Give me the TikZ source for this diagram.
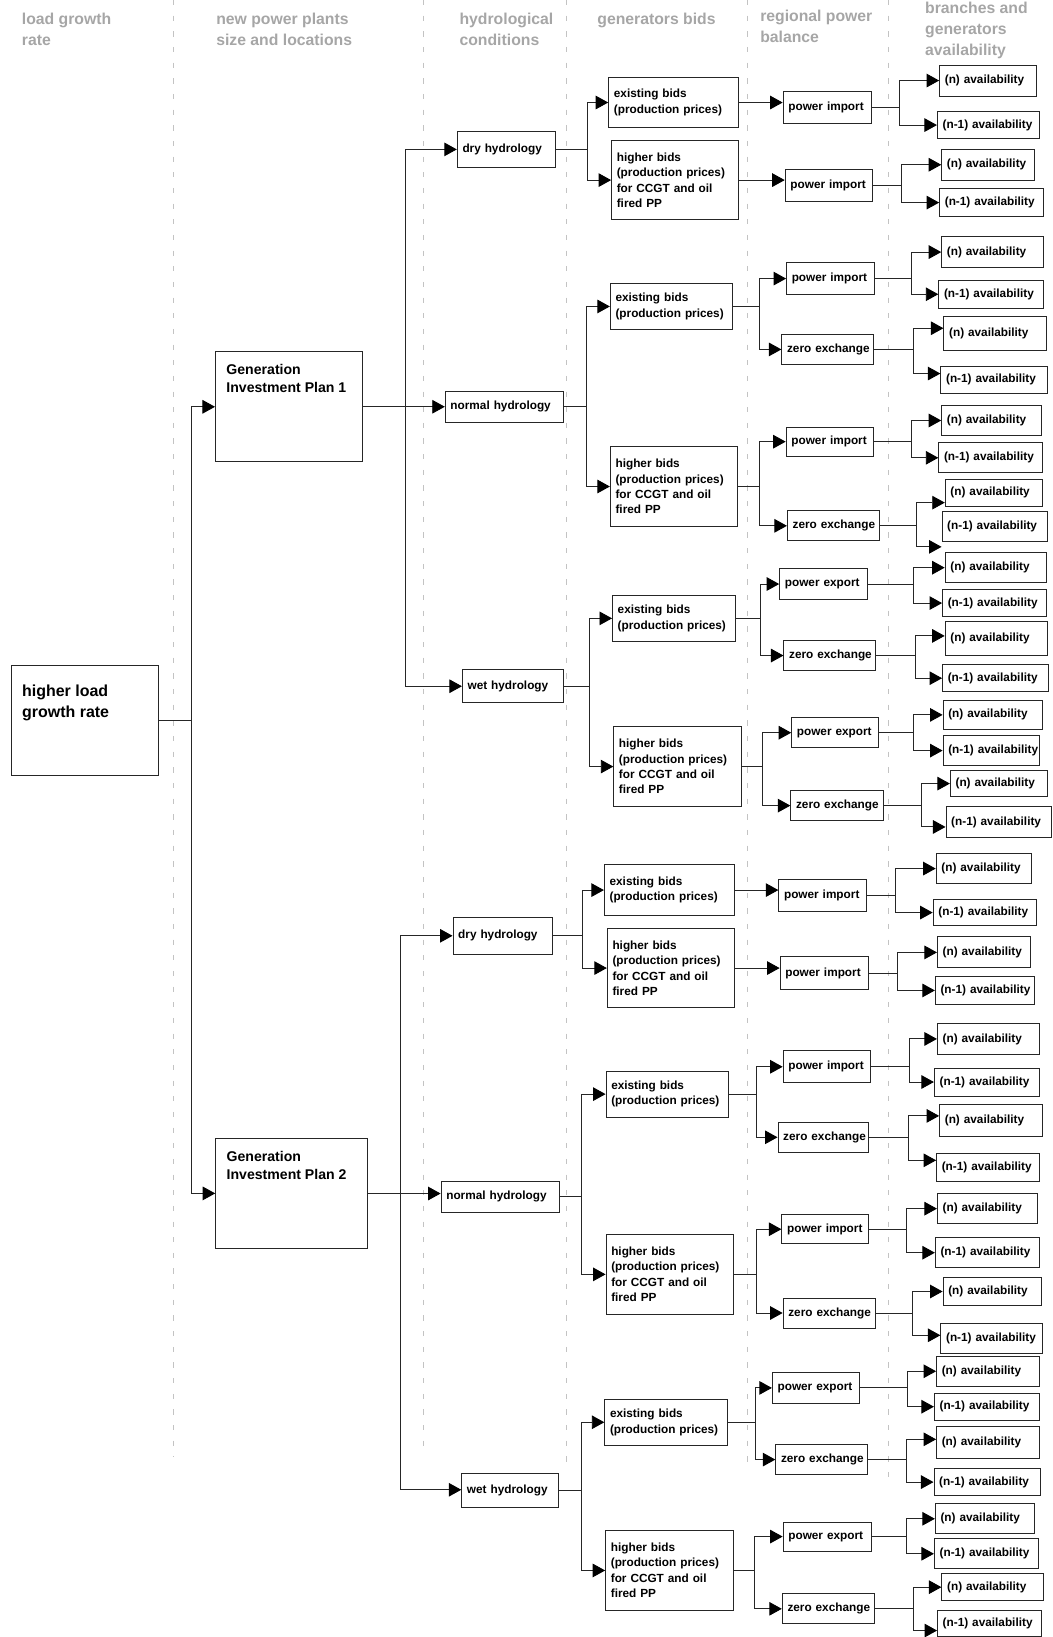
\documentclass[tikz,border=0pt]{standalone}
\usepackage{fontspec}
\setmainfont{Liberation Sans}
\usetikzlibrary{arrows.meta}
\definecolor{hdrgray}{RGB}{166,166,166}
\definecolor{guidegray}{RGB}{195,195,195}
\newcommand\nohy{\hyphenpenalty=10000 \exhyphenpenalty=10000 \lefthyphenmin=64 }
\newcommand\boxfont{\fontsize{11.3}{14.8}\selectfont\bfseries\nohy}
\newcommand\hdrfont{\fontsize{15.1}{20}\selectfont\bfseries}
\newcommand\gipfont{\fontsize{13.5}{17.5}\selectfont\bfseries\nohy}
\newcommand\rootfont{\fontsize{15.3}{20}\selectfont\bfseries\nohy}
\tikzset{
  boxbase/.style={draw=black!85,line width=0.9pt,fill=white,rectangle},
  box/.style={boxbase,align=left,inner xsep=5pt,inner ysep=2pt,font=\boxfont},
  tbox/.style={boxbase,inner xsep=10.5pt,inner ysep=0pt},
  conn/.style={draw=black!85,line width=0.9pt,-{Triangle[length=12pt,width=13pt,color=black]}},
  hdr/.style={anchor=base west,inner sep=0pt,font=\hdrfont,text=hdrgray},
  guide/.style={draw=guidegray,line width=0.9pt,dash pattern=on 5pt off 10pt},
}
% box: name x1 y1 x2 y2 text
\newcommand\bx[6]{%
  \pgfmathsetmacro\BXw{#4-#2}\pgfmathsetmacro\BXh{#5-#3}\pgfmathsetmacro\BXt{#4-#2-10}%
  \pgfmathsetmacro\BXx{(#2+#4)/2}\pgfmathsetmacro\BXy{(#3+#5)/2}%
  \node[box,minimum width=\BXw pt,minimum height=\BXh pt,text width=\BXt pt] (#1) at (\BXx,\BXy) {#6};}
% top-aligned box: name x1 y1 x2 y2 font toppad text
\newcommand\tbx[8]{%
  \pgfmathsetmacro\BXw{#4-#2}\pgfmathsetmacro\BXh{#5-#3}\pgfmathsetmacro\BXt{#4-#2-21}%
  \pgfmathsetmacro\BXx{(#2+#4)/2}\pgfmathsetmacro\BXy{(#3+#5)/2}%
  \node[tbox,minimum width=\BXw pt,minimum height=\BXh pt] (#1) at (\BXx,\BXy)
    {\parbox[c][\BXh pt][t]{\BXt pt}{#6\vspace*{#7pt}\raggedright #8}};}
% elbow link: [offset] parent junction-x child
\newcommand\lnk[4][0]{%
  \path (#4.west) ++(0,#1) coordinate (tgt);
  \draw[conn] (#2.east) -| (#3,0 |- tgt) -- (tgt);}
% straight link
\newcommand\dlnk[2]{\draw[conn] (#1.east) -- (#1.east -| #2.west);}
\newcommand\EB{existing~bids\\(production~prices)}
\newcommand\HB{higher~bids\\(production~prices)\\for~CCGT~and~oil\\fired~PP}
\newcommand\NA{(n)~availability}
\newcommand\MA{(n-1)~availability}
\begin{document}
\begin{tikzpicture}[x=1pt,y=-1pt]
\useasboundingbox (0,0) rectangle (1008,1568);
% guides
\draw[guide] (166,0) -- (166,1395.7);
\draw[guide] (405.4,0) -- (405.4,1392.4);
\draw[guide] (542.3,0) -- (542.3,1405.3);
\draw[guide] (715.5,0) -- (715.5,1405);
\draw[guide] (850.8,0) -- (850.8,1421);
% headers
\node[hdr] (h1a) at (20.8,23.2) {load growth};
\node[hdr] (h1b) at (20.8,43.3) {rate};
\node[hdr] (h2a) at (207,23.2) {new power plants};
\node[hdr] (h2b) at (207,43.3) {size and locations};
\node[hdr] (h3a) at (440,23.2) {hydrological};
\node[hdr] (h3b) at (440,43.3) {conditions};
\node[hdr] (h4a) at (572,23.2) {generators bids};
\node[hdr] (h5a) at (728,21) {regional power};
\node[hdr] (h5b) at (728,41) {balance};
\node[hdr] (h6a) at (886,13) {branches and};
\node[hdr] (h6b) at (886,33) {generators};
\node[hdr] (h6c) at (886,53) {availability};
% main boxes
\tbx{root}{10.7}{637.8}{151.6}{743}{\rootfont}{18.7}{higher load\\growth rate}
\tbx{g1}{206.4}{337}{347.1}{442.3}{\gipfont}{12}{Generation\\Investment Plan 1}
\tbx{g2}{206.6}{1090.7}{352.3}{1195.5}{\gipfont}{12}{Generation\\Investment Plan 2}
% hydrology
\bx{g1d}{438.0}{125.6}{532.5}{160.6}{dry~hydrology}
\bx{g1n}{426.5}{374.8}{539.9}{404.4}{normal~hydrology}
\bx{g1w}{442.9}{641.3}{539.9}{673.3}{wet~hydrology}
\bx{g2d}{433.9}{878.8}{529.2}{913.9}{dry~hydrology}
\bx{g2n}{422.5}{1131.5}{535.7}{1160.9}{normal~hydrology}
\bx{g2w}{442.3}{1411.7}{535}{1444.2}{wet~hydrology}
% bids
\bx{g1de}{583.0}{74.1}{707.0}{122.3}{\EB}
\bx{g1dh}{585.8}{134.8}{707.0}{210.2}{\HB}
\bx{g1ne}{584.6}{271.5}{701.6}{315.6}{\EB}
\bx{g1nh}{584.6}{428}{706.6}{504}{\HB}
\bx{g1we}{586.7}{570.4}{704.1}{614.2}{\EB}
\bx{g1wh}{587.9}{696.2}{709.9}{772.3}{\HB}
\bx{g2de}{578.9}{828.1}{703.3}{877}{\EB}
\bx{g2dh}{581.7}{889.4}{703.3}{965.1}{\HB}
\bx{g2ne}{580.5}{1026.1}{697.5}{1069.9}{\EB}
\bx{g2nh}{580.5}{1182.3}{702.9}{1259}{\HB}
\bx{g2we}{579.3}{1340.1}{696.7}{1384.5}{\EB}
\bx{g2wh}{580.1}{1465.9}{702.9}{1542.6}{\HB}
% balance
\bx{g1dei}{750.1}{87.8}{834.3}{118.2}{power~import}
\bx{g1dhi}{752.1}{162.3}{835.5}{193.2}{power~import}
\bx{g1nei}{753.4}{251.7}{837.6}{282}{power~import}
\bx{g1nez}{748.9}{320.3}{836.3}{349.1}{zero~exchange}
\bx{g1nhi}{753}{409.2}{836.3}{436.9}{power~import}
\bx{g1nhz}{754.2}{489.3}{842.5}{518}{zero~exchange}
\bx{g1wep}{746.8}{544.5}{831}{574.3}{power~export}
\bx{g1wez}{750.9}{613.2}{838.4}{642.6}{zero~exchange}
\bx{g1whp}{758.3}{687.6}{841.7}{716}{power~export}
\bx{g1whz}{757.5}{757.6}{845.8}{785.7}{zero~exchange}
\bx{g2dei}{746}{842.5}{830.2}{872.8}{power~import}
\bx{g2dhi}{747.2}{916.6}{831.4}{947.9}{power~import}
\bx{g2nei}{750.1}{1006.6}{833.5}{1037}{power~import}
\bx{g2nez}{745.2}{1074.7}{832.2}{1104}{zero~exchange}
\bx{g2nhi}{748.9}{1163.5}{832.2}{1191.3}{power~import}
\bx{g2nhz}{750.1}{1243.3}{838.4}{1272}{zero~exchange}
\bx{g2wep}{739.8}{1314.2}{823.2}{1344.6}{power~export}
\bx{g2wez}{743.1}{1383.5}{831}{1412.6}{zero~exchange}
\bx{g2whp}{750.1}{1457.9}{834.3}{1485.7}{power~export}
\bx{g2whz}{749.3}{1526.6}{837.6}{1555.4}{zero~exchange}
% availability
\bx{g1deia}{900}{62.3}{992.4}{92}{\NA}
\bx{g1deib}{897.9}{107}{995.7}{132.6}{\MA}
\bx{g1dhia}{902}{143.1}{991.1}{172.5}{\NA}
\bx{g1dhib}{900}{180.5}{999.7}{207.6}{\MA}
\bx{g1neia}{902}{226.8}{999.3}{256.1}{\NA}
\bx{g1neib}{899.2}{268.3}{999.3}{295.4}{\MA}
\bx{g1neza}{904.1}{303.4}{1002.6}{335.4}{\NA}
\bx{g1nezb}{901.2}{350.7}{1003.4}{376.9}{\MA}
\bx{g1nhia}{902}{388.7}{997.7}{416.8}{\NA}
\bx{g1nhib}{899.2}{424.1}{998.5}{452.9}{\MA}
\bx{g1nhza}{905.4}{459.3}{998.7}{484.8}{\NA}
\bx{g1nhzb}{902.3}{490.2}{1002.9}{518.4}{\MA}
\bx{g1wepa}{905.3}{529.2}{1002.6}{558.3}{\NA}
\bx{g1wepb}{902.8}{564.4}{1002.6}{590.9}{\MA}
\bx{g1weza}{905.3}{595.6}{1003.4}{627.6}{\NA}
\bx{g1wezb}{902.8}{636.5}{1004.7}{662.7}{\MA}
\bx{g1whpa}{903.3}{670.7}{998.5}{698.8}{\NA}
\bx{g1whpb}{903.3}{704.9}{995.2}{733}{\MA}
\bx{g1whza}{910.3}{737.8}{1003.4}{763.3}{\NA}
\bx{g1whzb}{906.1}{772.9}{1006.7}{801.7}{\MA}
\bx{g2deia}{896.7}{817.6}{988.3}{846.3}{\NA}
\bx{g2deib}{893.8}{861.3}{992.4}{886.9}{\MA}
\bx{g2dhia}{897.9}{897.4}{987}{927.1}{\NA}
\bx{g2dhib}{895.9}{935.1}{991.1}{962.3}{\MA}
\bx{g2neia}{897.9}{980.5}{995.2}{1009.8}{\NA}
\bx{g2neib}{895}{1023}{995.2}{1049.8}{\MA}
\bx{g2neza}{900}{1058.1}{998.5}{1089}{\NA}
\bx{g2nezb}{897.1}{1105}{995.2}{1131.2}{\MA}
\bx{g2nhia}{897.9}{1143.4}{993.6}{1172}{\NA}
\bx{g2nhib}{895.9}{1185.5}{995.2}{1214.3}{\MA}
\bx{g2nhza}{903.3}{1223.8}{997.3}{1250.3}{\NA}
\bx{g2nhzb}{901.2}{1267.3}{998.5}{1296.7}{\MA}
\bx{g2wepa}{897.1}{1298.9}{995.2}{1328}{\NA}
\bx{g2wepb}{895}{1334.3}{995.2}{1360.5}{\MA}
\bx{g2weza}{897.1}{1366}{995.7}{1397.3}{\NA}
\bx{g2wezb}{894.6}{1406.8}{996.5}{1432.4}{\MA}
\bx{g2whpa}{895.9}{1440.4}{991.1}{1469.1}{\NA}
\bx{g2whpb}{895}{1473.9}{994.4}{1502.6}{\MA}
\bx{g2whza}{902.2}{1507.5}{999.6}{1533}{\NA}
\bx{g2whzb}{898}{1542.6}{998}{1567}{\MA}
% connectors: root and plans
\lnk{root}{183.7}{g1}
\lnk{root}{183.7}{g2}
\lnk{g1}{388.7}{g1d}
\lnk{g1}{388.7}{g1n}
\lnk{g1}{388.7}{g1w}
\lnk{g2}{383.5}{g2d}
\lnk[-3]{g2}{383.5}{g2n}
\lnk[-1]{g2}{383.5}{g2w}
% hydrology -> bids
\lnk{g1d}{562.4}{g1de}\lnk{g1d}{562.4}{g1dh}
\lnk{g1n}{561.6}{g1ne}\lnk{g1n}{561.6}{g1nh}
\lnk{g1w}{564.5}{g1we}\lnk{g1w}{564.5}{g1wh}
\lnk{g2d}{557.9}{g2de}\lnk{g2d}{557.9}{g2dh}
\lnk{g2n}{557.1}{g2ne}\lnk{g2n}{557.1}{g2nh}
\lnk{g2w}{557.2}{g2we}\lnk{g2w}{557.2}{g2wh}
% bids -> balance
\dlnk{g1de}{g1dei}
\dlnk{g1dh}{g1dhi}
\lnk{g1ne}{727.5}{g1nei}\lnk{g1ne}{727.5}{g1nez}
\lnk{g1nh}{727.5}{g1nhi}\lnk{g1nh}{727.5}{g1nhz}
\lnk{g1we}{728.7}{g1wep}\lnk{g1we}{728.7}{g1wez}
\lnk{g1wh}{730.8}{g1whp}\lnk{g1wh}{730.8}{g1whz}
\dlnk{g2de}{g2dei}
\dlnk{g2dh}{g2dhi}
\lnk{g2ne}{724.2}{g2nei}\lnk{g2ne}{724.2}{g2nez}
\lnk{g2nh}{724.6}{g2nhi}\lnk{g2nh}{724.6}{g2nhz}
\lnk{g2we}{723.4}{g2wep}\lnk{g2we}{723.4}{g2wez}
\lnk{g2wh}{722.6}{g2whp}\lnk{g2wh}{722.6}{g2whz}
% balance -> availability
\lnk{g1dei}{861.8}{g1deia}\lnk{g1dei}{861.8}{g1deib}
\lnk{g1dhi}{863.8}{g1dhia}\lnk{g1dhi}{863.8}{g1dhib}
\lnk{g1nei}{873.3}{g1neia}\lnk{g1nei}{873.3}{g1neib}
\lnk[-5]{g1nez}{874.5}{g1neza}\lnk[-6]{g1nez}{874.5}{g1nezb}
\lnk{g1nhi}{873.3}{g1nhia}\lnk{g1nhi}{873.3}{g1nhib}
\lnk[9.4]{g1nhz}{877.7}{g1nhza}\lnk[19.5]{g1nhz}{877.7}{g1nhzb}
\lnk{g1wep}{875.3}{g1wepa}\lnk{g1wep}{875.3}{g1wepb}
\lnk[-2.5]{g1wez}{876.6}{g1weza}\lnk{g1wez}{876.6}{g1wezb}
\lnk{g1whp}{875.3}{g1whpa}\lnk{g1whp}{875.3}{g1whpb}
\lnk{g1whz}{882.3}{g1whza}\lnk[4.8]{g1whz}{882.3}{g1whzb}
\lnk{g2dei}{858.1}{g2deia}\lnk{g2dei}{858.1}{g2deib}
\lnk{g2dhi}{859.7}{g2dhia}\lnk{g2dhi}{859.7}{g2dhib}
\lnk{g2nei}{871.2}{g2neia}\lnk{g2nei}{871.2}{g2neib}
\lnk[-4.7]{g2nez}{870}{g2neza}\lnk[-6.7]{g2nez}{870}{g2nezb}
\lnk{g2nhi}{868.4}{g2nhia}\lnk{g2nhi}{868.4}{g2nhib}
\lnk{g2nhz}{874.1}{g2nhza}\lnk[-3]{g2nhz}{874.1}{g2nhzb}
\lnk{g2wep}{869.2}{g2wepa}\lnk{g2wep}{869.2}{g2wepb}
\lnk[-3]{g2wez}{868.4}{g2weza}\lnk{g2wez}{868.4}{g2wezb}
\lnk{g2whp}{868.4}{g2whpa}\lnk{g2whp}{868.4}{g2whpb}
\lnk{g2whz}{874.5}{g2whza}\lnk[7]{g2whz}{874.5}{g2whzb}
\end{tikzpicture}
\end{document}
